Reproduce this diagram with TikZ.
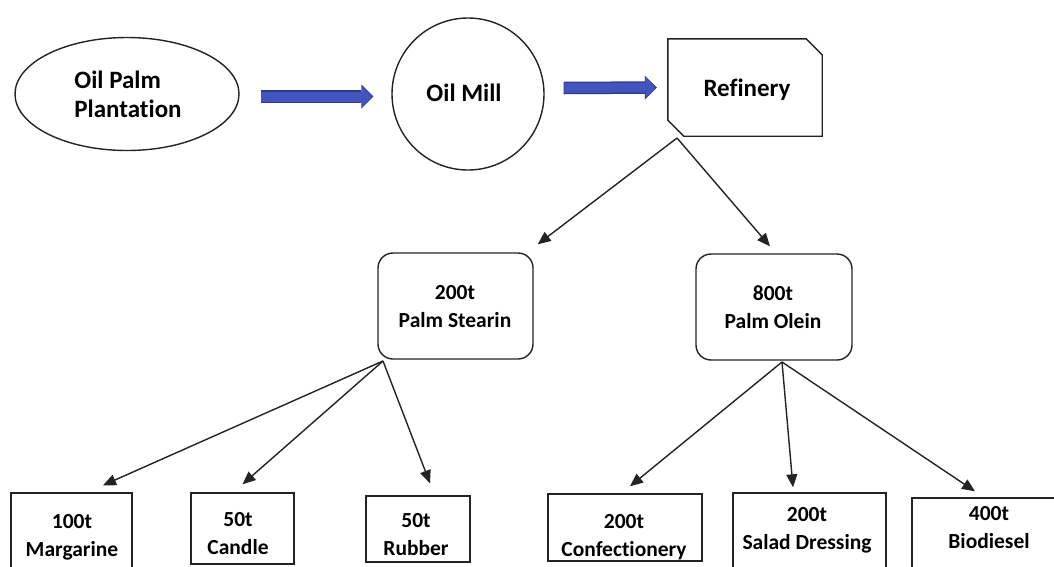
\documentclass[tikz,border=0pt]{standalone}
\usepackage{fontspec}
\setmainfont{Carlito}[Ligatures=NoCommon]
\usetikzlibrary{arrows.meta,shapes.geometric,calc}
\definecolor{arrowblue}{RGB}{68,84,190}
\definecolor{arrowdark}{RGB}{45,58,140}
\definecolor{linegray}{RGB}{35,35,35}
\begin{document}
\begin{tikzpicture}[x=1pt,y=-1pt,
  every node/.style={font=\bfseries\fontsize{21.5}{28}\selectfont, align=center, inner sep=0pt, text=black},
  bigtext/.style={font=\bfseries\fontsize{25}{29}\selectfont},
  outl/.style={draw=linegray, line width=1.4pt},
  roundbox/.style={outl, rectangle, rounded corners=15pt},
  sqbox/.style={outl, rectangle},
  flow/.style={draw=linegray, line width=1.4pt, -{Triangle[length=13pt,width=11pt]}},
  blockedge/.style={draw=arrowdark, line width=12.5pt, line cap=butt,
     -{Triangle[length=12pt 0 0,width=24pt 0 0,line width=0pt]}},
  blockarrow/.style={draw=arrowblue, line width=10pt, line cap=butt,
     -{Triangle[length=10pt 0 0,width=20pt 0 0,line width=0pt]}}
]
\useasboundingbox (0,0) rectangle (1054,566);

% top row
\node[outl, ellipse, minimum width=224pt, minimum height=113pt] (plant) at (127,94) {};
\node[bigtext, align=left] (plantT) at (128,94.5) {Oil Palm\\Plantation};
\node[outl, circle, minimum size=152pt] (mill) at (468,94) {};
\node[bigtext] (millT) at (464,93) {Oil Mill};
\node[rectangle, minimum width=154pt, minimum height=97pt] (ref) at (745,87.5) {};
\node[bigtext] (reftext) at (747,90) {Refinery};
\draw[outl] (ref.north west) -- ($(ref.north east)+(-16,0)$) -- ($(ref.north east)+(0,16)$)
  -- (ref.south east) -- ($(ref.south west)+(16,0)$) -- ($(ref.south west)+(0,-16)$) -- cycle;

\draw[blockedge] ($(plant.east)+(21,2.5)$) -- ($(mill.west)+(-18,2.5)$);
\draw[blockarrow] ($(plant.east)+(21.7,2.5)$) -- ($(mill.west)+(-19.3,2.5)$);
\draw[blockedge] ($(mill.east)+(19,-6)$) -- ($(ref.west)+(-11,0)$);
\draw[blockarrow] ($(mill.east)+(19.7,-6)$) -- ($(ref.west)+(-12.3,0)$);

% middle row
\node[roundbox, minimum width=155pt, minimum height=106pt] (stearin) at (455.5,306) {};
\node (stearinT) at (455,307) {200t\\Palm Stearin};
\node[roundbox, minimum width=156pt, minimum height=106pt] (olein) at (774,307) {};
\node (oleinT) at (773,307) {800t\\Palm Olein};

\coordinate (rsplit) at (677,138);
\draw[flow] (rsplit) -- ($(stearin.north east)+(4,-8)$);
\draw[flow] (rsplit) -- ($(olein.north)+(-4,-7)$);

% bottom row boxes
\node[sqbox, minimum width=121pt, minimum height=87pt] (marg) at (71.5,536.5) {};
\node[sqbox, minimum width=103pt, minimum height=71pt] (candle) at (242.5,528.5) {};
\node[sqbox, minimum width=104pt, minimum height=66pt] (rubber) at (418,529) {};
\node[sqbox, minimum width=154pt, minimum height=67pt] (conf) at (625,527.5) {};
\node[sqbox, minimum width=153pt, minimum height=87pt] (salad) at (809.5,536.5) {};
\node[sqbox, minimum width=158pt, minimum height=82pt] (bio) at (991,539) {};

\node (margT) at (72,537) {100t\\Margarine};
\node (candleT) at (238,533.5) {50t\\Candle};
\node (rubberT) at (416,534.5) {50t\\Rubber};
\node (confT) at (624,537.5) {200t\\Confectionery};
\node (saladT) at (807,530) {200t\\Salad Dressing};
\node (bioT) at (989,527.5) {400t\\Biodiesel};

\coordinate (ssplit) at (383,361);
\coordinate (osplit) at (782,362);
\draw[flow] (ssplit) -- ($(marg.north)+(31.5,-7)$);
\draw[flow] (ssplit) -- ($(candle.north)+(0,-8)$);
\draw[flow] (ssplit) -- ($(rubber.north)+(12,-12)$);
\draw[flow] (osplit) -- ($(conf.north)+(5,-7)$);
\draw[flow] (osplit) -- ($(salad.north)+(-16.5,-5)$);
\draw[flow] (osplit) -- ($(bio.north)+(-16,-6)$);
\end{tikzpicture}
\end{document}
